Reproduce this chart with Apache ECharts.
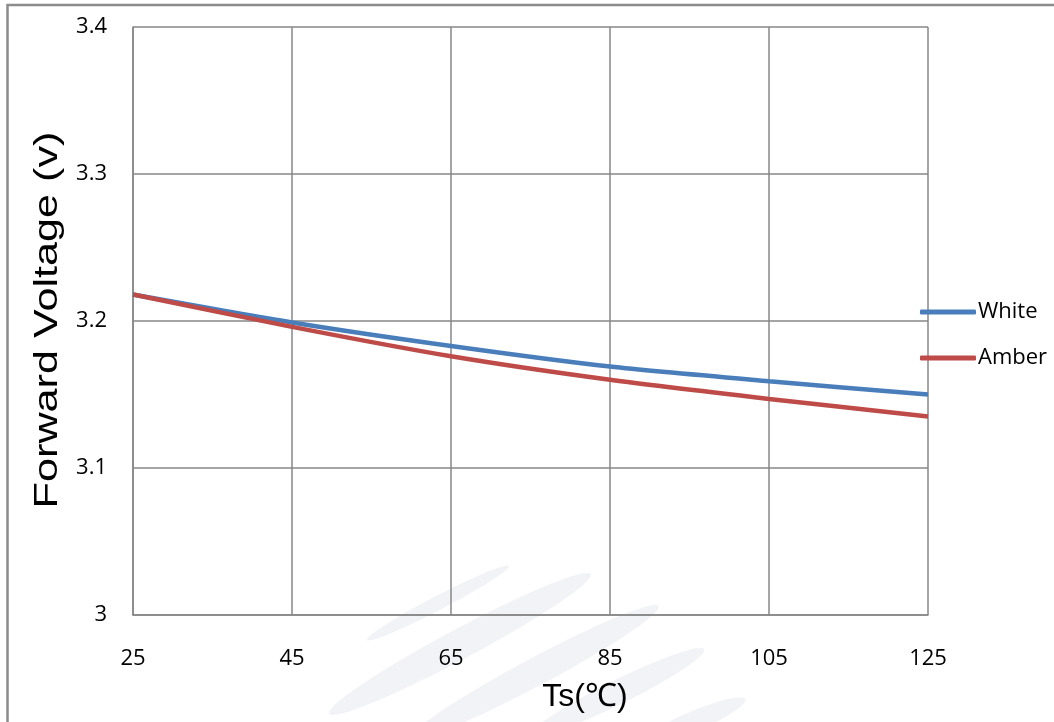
<!DOCTYPE html>
<html>
<head>
<meta charset="utf-8">
<script src="https://cdn.jsdelivr.net/npm/echarts@6/dist/echarts.min.js"></script>
<style>html,body{margin:0;padding:0;background:#fff;}#c{width:1054px;height:722px;}</style>
</head>
<body>
<div id="c"></div>
<script>
const categories = ['25', '45', '65', '85', '105', '125'];
const whiteValues = [3.218, 3.199, 3.183, 3.169, 3.159, 3.150];
const amberValues = [3.218, 3.196, 3.176, 3.160, 3.147, 3.135];
const yTicks = { min: 3, max: 3.4, interval: 0.1 };
const seriesNames = ['White', 'Amber'];

const chart = echarts.init(document.getElementById('c'));
const gridColor = '#878787';
const wm = '#f2f3f6';
function ellipse(cx, cy, rx, ry, rot) {
  return { type: 'ellipse', x: cx, y: cy, rotation: rot, shape: { cx: 0, cy: 0, rx: rx, ry: ry }, style: { fill: wm }, z: -1, silent: true };
}
chart.setOption({
  animation: false,
  backgroundColor: '#fff',
  grid: { left: 133, top: 27, width: 795, height: 588 },
  legend: {
    orient: 'vertical',
    left: 915, top: 296,
    itemWidth: 56, itemHeight: 5, itemGap: 24,
    icon: 'roundRect',
    data: seriesNames,
    textStyle: { fontFamily: 'Open Sans', fontSize: 22, color: '#000', padding: [0,0,0,-3] }
  },
  xAxis: {
    type: 'category',
    data: categories,
    boundaryGap: false,
    axisLine: { show: true, lineStyle: { color: gridColor, width: 1.5 } },
    axisTick: { show: false },
    splitLine: { show: true, lineStyle: { color: gridColor, width: 1.5 } },
    axisLabel: { margin: 33, color: '#000', fontFamily: 'Open Sans', fontSize: 22 }
  },
  yAxis: {
    type: 'value',
    min: yTicks.min, max: yTicks.max, interval: yTicks.interval,
    axisLine: { show: true, lineStyle: { color: gridColor, width: 1.5 } },
    axisTick: { show: false },
    splitLine: { show: true, lineStyle: { color: gridColor, width: 1.5 } },
    axisLabel: { margin: 26, color: '#000', fontFamily: 'Open Sans', fontSize: 22 }
  },
  graphic: [
    ellipse(438, 603, 80, 7, 0.48),
    ellipse(460, 644, 148, 15, 0.49),
    ellipse(535, 672, 140, 14, 0.49),
    ellipse(618, 692, 96, 12, 0.46),
    ellipse(692, 722, 58, 10, 0.4),
    { type: 'rect', shape: { x: 7.5, y: 5, width: 1100, height: 800 }, style: { fill: 'none', stroke: '#8c8c8c', lineWidth: 2.5 }, z: 100 },
    { type: 'text', x: 48, y: 320, rotation: Math.PI / 2, scaleX: 1.27, style: { text: 'Forward Voltage (v)', font: '34px "Liberation Sans"', fill: '#000', align: 'center', verticalAlign: 'middle' } },
    { type: 'text', x: 585, y: 697, style: { text: 'Ts(℃)', font: '32px "Liberation Sans"', fill: '#000', align: 'center', verticalAlign: 'middle' } }
  ],
  series: [
    { name: seriesNames[0], type: 'line', data: whiteValues, smooth: 0.25, symbol: 'none', lineStyle: { color: '#4A7EBB', width: 4.5 }, itemStyle: { color: '#4A7EBB' } },
    { name: seriesNames[1], type: 'line', data: amberValues, smooth: 0.25, symbol: 'none', lineStyle: { color: '#BE4B48', width: 4.5 }, itemStyle: { color: '#BE4B48' } }
  ]
});
</script>
</body>
</html>
